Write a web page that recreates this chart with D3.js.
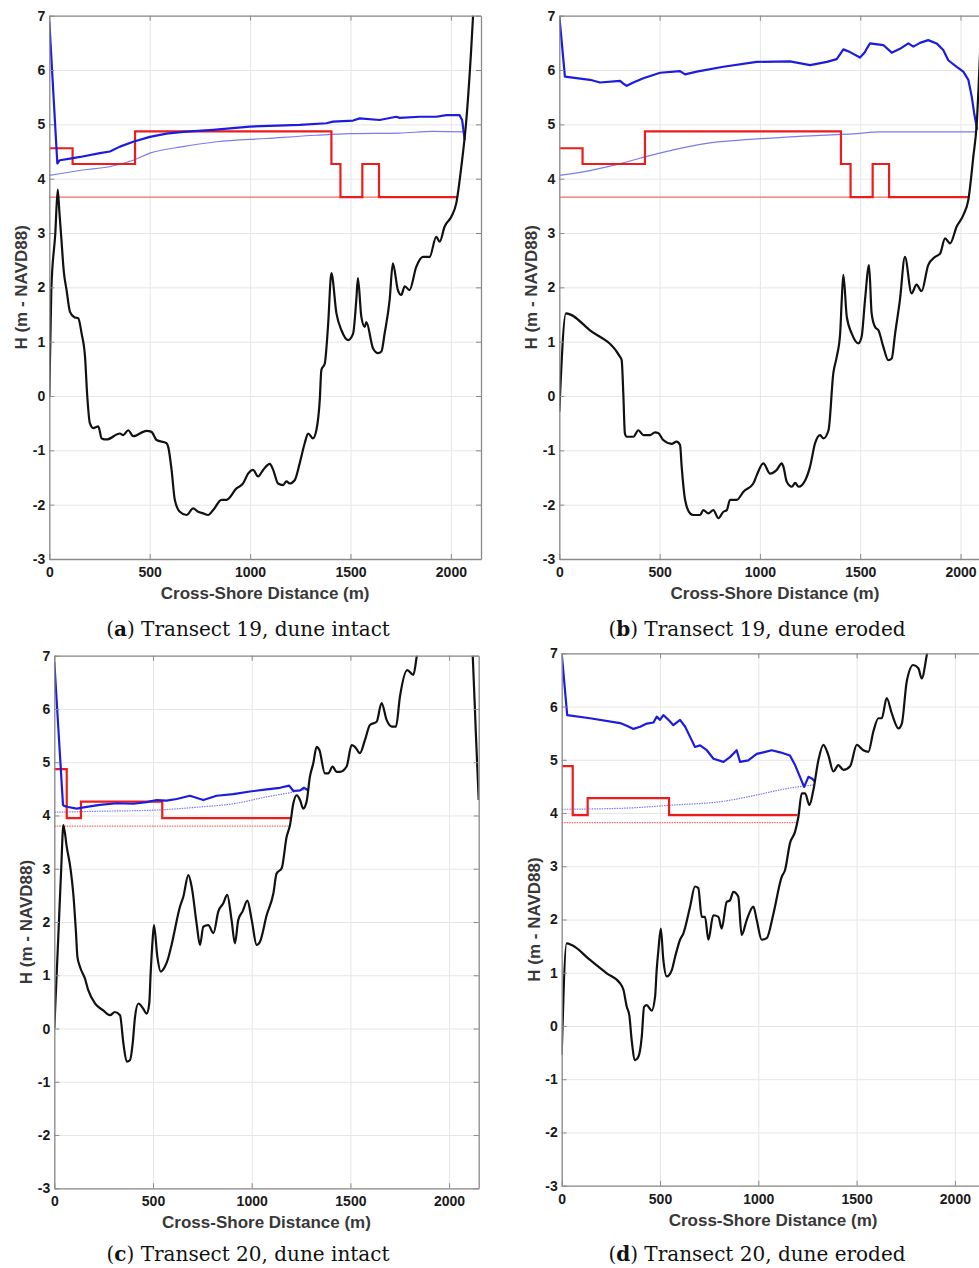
<!DOCTYPE html>
<html>
<head>
<meta charset="utf-8">
<script src="https://cdn.jsdelivr.net/npm/d3@7"></script>
<style>
  body { margin: 0; background: #fff; }
  svg { display: block; }
</style>
</head>
<body>
<div id="fig"></div>
<script>
var svgWidth = 979;
var svgHeight = 1268;

// Axis settings shared by all four panels
var xDomain = [0, 2150];
var yDomain = [-3, 7];
var xTicks = [0, 500, 1000, 1500, 2000];
var yTicks = [-3, -2, -1, 0, 1, 2, 3, 4, 5, 6, 7];
var xLabel = "Cross-Shore Distance (m)";
var yLabel = "H (m - NAVD88)";
var captionLetters = ["a", "b", "c", "d"];
var captionTexts = [" Transect 19, dune intact", " Transect 19, dune eroded",
                    " Transect 20, dune intact", " Transect 20, dune eroded"];

// (a) Transect 19, dune intact
var groundA = [[0,0],[10,1.95],[30,3.0],[42,3.8],[50,3.4],[60,2.9],[72,2.3],[86,1.95],[103,1.55],[125,1.45],[144,1.43],[161,1.15],[178,0.72],[189,0],[202,-0.5],[219,-0.59],[244,-0.56],[261,-0.78],[285,-0.8],[352,-0.69],[368,-0.72],[393,-0.63],[418,-0.74],[484,-0.64],[509,-0.66],[534,-0.81],[584,-0.87],[593,-0.95],[609,-1.36],[625,-1.91],[650,-2.13],[684,-2.19],[716,-2.07],[741,-2.13],[766,-2.16],[791,-2.19],[816,-2.1],[858,-1.91],[883,-1.91],[932,-1.7],[965,-1.61],[990,-1.43],[1015,-1.36],[1040,-1.48],[1065,-1.36],[1098,-1.25],[1115,-1.36],[1139,-1.61],[1164,-1.64],[1181,-1.57],[1197,-1.61],[1222,-1.55],[1247,-1.24],[1272,-0.87],[1289,-0.69],[1313,-0.78],[1330,-0.63],[1347,-0.07],[1355,0.48],[1372,0.6],[1388,1.28],[1405,2.26],[1430,1.52],[1455,1.21],[1488,1.03],[1513,1.15],[1529,1.77],[1537,2.17],[1554,1.46],[1571,1.27],[1579,1.36],[1612,0.88],[1637,0.79],[1654,0.82],[1670,1.15],[1695,1.77],[1711,2.44],[1736,1.95],[1753,1.86],[1770,2.02],[1794,1.95],[1828,2.38],[1861,2.56],[1894,2.56],[1927,2.93],[1944,2.84],[1969,3.12],[2002,3.3],[2027,3.55],[2052,4.22],[2077,5.08],[2101,6.37],[2115,7.3],[2125,7.9]];
var surgeA = [[0,6.9],[40,4.28],[52,4.34],[103,4.37],[153,4.4],[252,4.47],[302,4.5],[352,4.59],[418,4.68],[501,4.77],[584,4.83],[667,4.86],[816,4.9],[998,4.96],[1247,4.99],[1380,5.02],[1413,5.05],[1513,5.07],[1546,5.11],[1645,5.08],[1728,5.14],[1745,5.12],[1844,5.14],[1927,5.14],[1977,5.17],[2043,5.17],[2056,5.08],[2069,4.71]];
var meanA = [[0,4.06],[166,4.16],[299,4.22],[418,4.34],[501,4.47],[667,4.59],[833,4.68],[1082,4.74],[1330,4.8],[1496,4.83],[1745,4.84],[1911,4.87],[2069,4.86]];
var stepA = [[0,4.56],[116,4.27],[427,4.87],[1405,4.27],[1450,3.66],[1559,4.27],[1642,3.66],[2035,3.66]];
var levelA = [[0,3.66],[2035,3.66]];

// (b) Transect 19, dune eroded
var groundB = [[0,-0.29],[33,1.52],[153,1.21],[303,0.72],[311,0.66],[319,0.05],[327,-0.69],[336,-0.75],[369,-0.75],[394,-0.63],[419,-0.72],[452,-0.72],[477,-0.67],[493,-0.68],[518,-0.81],[560,-0.88],[585,-0.84],[602,-0.9],[610,-1.3],[627,-1.91],[652,-2.16],[668,-2.19],[702,-2.19],[718,-2.1],[743,-2.16],[768,-2.1],[793,-2.25],[818,-2.13],[835,-2.1],[851,-1.91],[885,-1.91],[918,-1.76],[967,-1.61],[984,-1.46],[1017,-1.24],[1051,-1.43],[1084,-1.36],[1109,-1.24],[1117,-1.3],[1134,-1.58],[1159,-1.67],[1176,-1.6],[1193,-1.67],[1226,-1.55],[1250,-1.3],[1275,-0.87],[1300,-0.72],[1317,-0.78],[1342,-0.63],[1366,0.42],[1383,0.72],[1400,1.15],[1408,1.77],[1416,2.23],[1433,1.46],[1458,1.15],[1491,0.97],[1507,1.09],[1524,1.77],[1544,2.41],[1557,1.52],[1574,1.27],[1591,1.21],[1615,0.91],[1640,0.66],[1657,0.69],[1674,1.15],[1698,1.77],[1723,2.56],[1756,1.89],[1781,2.05],[1806,1.93],[1839,2.41],[1873,2.56],[1898,2.62],[1923,2.9],[1948,2.81],[1981,3.12],[2014,3.33],[2039,3.61],[2064,4.41],[2081,5.02],[2091,5.76],[2105,7.0],[2115,7.8]];
var surgeB = [[0,7.0],[28,5.88],[153,5.82],[203,5.77],[303,5.8],[319,5.75],[336,5.71],[369,5.77],[419,5.85],[503,5.95],[602,5.98],[627,5.92],[685,5.97],[818,6.06],[984,6.15],[1150,6.16],[1250,6.09],[1334,6.15],[1383,6.2],[1416,6.38],[1449,6.33],[1499,6.23],[1524,6.33],[1532,6.39],[1549,6.49],[1615,6.46],[1657,6.32],[1698,6.39],[1740,6.49],[1765,6.43],[1798,6.5],[1839,6.55],[1881,6.49],[1914,6.37],[1939,6.18],[1981,6.06],[2014,5.97],[2039,5.82],[2056,5.51],[2068,5.21],[2083,4.9]];
var meanB = [[0,4.06],[153,4.15],[319,4.29],[436,4.41],[569,4.53],[735,4.65],[901,4.71],[1150,4.77],[1482,4.83],[1598,4.86],[1815,4.86],[2081,4.86]];
var stepB = [[0,4.56],[116,4.27],[427,4.87],[1404,4.27],[1452,3.66],[1562,4.27],[1644,3.66],[2039,3.66]];
var levelB = [[0,3.66],[2039,3.66]];

// (c) Transect 20, dune intact
var groundC = [[0,0],[20,1.7],[35,3.0],[46,3.82],[63,3.41],[83,2.98],[96,2.54],[110,1.79],[117,1.35],[130,1.16],[155,0.94],[172,0.72],[206,0.47],[248,0.34],[282,0.25],[307,0.31],[333,0.25],[350,-0.28],[367,-0.62],[384,-0.59],[397,-0.28],[409,0.22],[426,0.47],[451,0.37],[468,0.28],[481,0.47],[488,1.03],[498,1.66],[505,1.94],[522,1.35],[539,1.07],[560,1.16],[577,1.32],[594,1.57],[637,2.29],[654,2.48],[679,2.88],[696,2.66],[721,1.97],[738,1.57],[755,1.91],[780,1.94],[806,1.79],[831,2.2],[856,2.35],[876,2.51],[898,2.04],[915,1.6],[932,2.04],[954,2.2],[978,2.4],[1000,2.04],[1025,1.57],[1042,1.63],[1076,2.13],[1110,2.54],[1126,2.91],[1152,3.01],[1177,3.6],[1194,3.82],[1211,4.23],[1228,4.38],[1245,4.29],[1261,4.13],[1278,4.26],[1295,4.73],[1312,4.98],[1329,5.29],[1343,5.23],[1371,4.79],[1388,4.79],[1410,4.92],[1430,4.82],[1447,4.82],[1481,4.92],[1506,5.32],[1523,5.29],[1548,5.17],[1574,5.42],[1599,5.7],[1633,5.76],[1658,6.11],[1684,5.79],[1709,5.67],[1731,5.67],[1751,6.23],[1788,6.73],[1819,6.64],[1836,6.98],[1870,7.6],[2000,8.6],[2100,7.9],[2120,6.98],[2135,5.6],[2150,4.29]];
var surgeC = [[0,6.89],[44,4.2],[50,4.18],[70,4.16],[113,4.13],[164,4.16],[231,4.2],[316,4.23],[400,4.22],[468,4.25],[519,4.29],[569,4.28],[620,4.31],[687,4.37],[755,4.29],[822,4.37],[907,4.4],[991,4.45],[1076,4.49],[1143,4.52],[1190,4.56],[1211,4.46],[1245,4.47],[1265,4.52],[1287,4.47]];
var meanC = [[0,4.06],[231,4.08],[502,4.1],[738,4.16],[907,4.22],[1076,4.35],[1211,4.44],[1287,4.5]];
var stepC = [[0,4.87],[63,3.95],[135,4.26],[547,3.95],[1197,3.95]];
var levelC = [[0,3.8],[1197,3.8]];

// (d) Transect 20, dune eroded
var groundD = [[0,-0.54],[25,1.55],[51,1.52],[144,1.24],[229,0.99],[297,0.8],[314,0.68],[331,0.36],[344,0.2],[356,-0.27],[373,-0.64],[390,-0.58],[407,-0.21],[419,0.36],[432,0.39],[458,0.29],[475,0.55],[483,1.05],[492,1.43],[504,1.83],[517,1.24],[534,0.93],[560,1.05],[577,1.3],[602,1.62],[619,1.74],[653,2.24],[678,2.62],[695,2.59],[712,2.05],[729,2.05],[746,1.62],[771,2.08],[797,2.05],[814,1.83],[839,2.33],[856,2.36],[873,2.52],[898,2.43],[915,1.71],[941,1.99],[975,2.24],[992,1.99],[1017,1.62],[1043,1.65],[1077,2.11],[1119,2.8],[1136,2.93],[1161,3.43],[1187,3.65],[1204,3.93],[1221,4.37],[1238,4.37],[1260,4.15],[1280,4.43],[1306,5.0],[1331,5.28],[1356,5.09],[1382,4.78],[1407,4.9],[1433,4.81],[1467,4.88],[1501,5.28],[1534,5.18],[1560,5.15],[1585,5.53],[1611,5.78],[1628,5.78],[1653,6.16],[1679,5.87],[1713,5.59],[1730,5.68],[1755,6.47],[1788,6.78],[1814,6.72],[1831,6.53],[1857,6.97],[1880,7.5],[2000,8.6],[2110,8.0]];
var surgeD = [[0,7.0],[28,5.84],[144,5.78],[297,5.69],[331,5.64],[365,5.58],[399,5.62],[433,5.68],[467,5.7],[483,5.81],[500,5.75],[517,5.84],[543,5.75],[568,5.65],[602,5.75],[628,5.62],[653,5.43],[678,5.24],[704,5.27],[738,5.18],[772,5.02],[823,4.96],[856,5.05],[890,5.18],[907,4.96],[949,4.99],[992,5.11],[1026,5.14],[1068,5.18],[1111,5.14],[1161,5.08],[1187,4.9],[1212,4.68],[1233,4.49],[1255,4.68],[1272,4.65],[1289,4.59]];
var meanD = [[0,4.07],[314,4.09],[568,4.15],[823,4.22],[992,4.34],[1161,4.47],[1289,4.53]];
var stepD = [[0,4.88],[56,3.96],[132,4.28],[546,3.96],[1199,3.96]];
var levelD = [[0,3.82],[1199,3.82]];

// Panel boxes in page pixels
var panels = [
  { left: 49.3,  right: 481,   top: 15.7,  bottom: 559,    capX: 248, capY: 636, dotted: false,
    ground: groundA, surge: surgeA, mean: meanA, step: stepA, level: levelA },
  { left: 559.3, right: 990.6, top: 15.7,  bottom: 559,    capX: 757, capY: 636, dotted: false,
    ground: groundB, surge: surgeB, mean: meanB, step: stepB, level: levelB },
  { left: 54.3,  right: 478.7, top: 655.7, bottom: 1188.3, capX: 248, capY: 1261, dotted: true,
    ground: groundC, surge: surgeC, mean: meanC, step: stepC, level: levelC },
  { left: 561.7, right: 984.4, top: 653.3, bottom: 1185.7, capX: 757, capY: 1261, dotted: true,
    ground: groundD, surge: surgeD, mean: meanD, step: stepD, level: levelD }
];

var svg = d3.select("#fig")
    .append("svg")
    .attr("width", svgWidth)
    .attr("height", svgHeight)
    .style("font-family", "'Liberation Sans', Arial, sans-serif");

// plain numbers, hyphen minus (MATLAB style)
var tickFmt = d => String(d);

panels.forEach(function(p, i) {
    var width = p.right - p.left;
    var height = p.bottom - p.top;

    var x = d3.scaleLinear().domain(xDomain).range([0, width]);
    var y = d3.scaleLinear().domain(yDomain).range([height, 0]);

    var g = svg.append("g")
        .attr("transform", `translate(${p.left}, ${p.top})`);

    g.append("clipPath")
        .attr("id", "clip" + i)
        .append("rect")
        .attr("width", width)
        .attr("height", height);

    // grid
    g.append("g")
        .attr("class", "grid")
        .attr("transform", `translate(0, ${height})`)
        .call(d3.axisBottom(x).tickValues(xTicks).tickSize(-height).tickFormat(""));
    g.append("g")
        .attr("class", "grid")
        .call(d3.axisLeft(y).tickValues(yTicks).tickSize(-width).tickFormat(""));
    g.selectAll(".grid line").attr("stroke", "#e6e6e6").attr("stroke-width", 1);
    g.selectAll(".grid .domain").remove();

    var plot = g.append("g").attr("clip-path", `url(#clip${i})`);

    var line = d3.line().x(d => x(d[0])).y(d => y(d[1]));
    var smooth = d3.line().x(d => x(d[0])).y(d => y(d[1])).curve(d3.curveMonotoneX);
    var stepLine = d3.line().x(d => x(d[0])).y(d => y(d[1])).curve(d3.curveStepAfter);

    plot.append("path")
        .attr("d", line(p.level))
        .attr("fill", "none")
        .attr("stroke", "#f26a6a")
        .attr("stroke-width", 1.2)
        .attr("stroke-dasharray", p.dotted ? "1.5,1" : null);

    plot.append("path")
        .attr("d", smooth(p.mean))
        .attr("fill", "none")
        .attr("stroke", "#7b7bf0")
        .attr("stroke-width", 1.2)
        .attr("stroke-dasharray", p.dotted ? "1.5,1" : null);

    plot.append("path")
        .attr("d", stepLine(p.step))
        .attr("fill", "none")
        .attr("stroke", "#ec1c1c")
        .attr("stroke-width", 2.2);

    plot.append("path")
        .attr("d", line(p.surge))
        .attr("fill", "none")
        .attr("stroke", "#1c1ce0")
        .attr("stroke-width", 2.2)
        .attr("stroke-linejoin", "round");

    plot.append("path")
        .attr("d", smooth(p.ground))
        .attr("fill", "none")
        .attr("stroke", "#111")
        .attr("stroke-width", 2.2)
        .attr("stroke-linejoin", "round");

    // axes (box with inward ticks)
    var bottomAxis = d3.axisBottom(x).tickValues(xTicks).tickFormat(tickFmt)
        .tickSizeInner(-5).tickSizeOuter(0).tickPadding(8);
    var leftAxis = d3.axisLeft(y).tickValues(yTicks).tickFormat(tickFmt)
        .tickSizeInner(-5).tickSizeOuter(0).tickPadding(4);
    var topAxis = d3.axisTop(x).tickValues(xTicks).tickSizeInner(-5).tickSizeOuter(0).tickFormat("");
    var rightAxis = d3.axisRight(y).tickValues(yTicks).tickSizeInner(-5).tickSizeOuter(0).tickFormat("");

    g.append("g").attr("class", "ax").attr("transform", `translate(0, ${height})`).call(bottomAxis);
    g.append("g").attr("class", "ax").call(leftAxis);
    g.append("g").attr("class", "ax").call(topAxis);
    g.append("g").attr("class", "ax").attr("transform", `translate(${width}, 0)`).call(rightAxis);

    g.selectAll(".ax .domain").attr("stroke", "#8a8a8a").attr("stroke-width", 1.3);
    g.selectAll(".ax line").attr("stroke", "#8a8a8a");
    g.selectAll(".ax text")
        .attr("fill", "#1a1a1a")
        .style("font-size", "14px")
        .style("font-weight", "bold")
        .style("font-family", "'Liberation Sans', Arial, sans-serif");

    // axis titles
    g.append("text")
        .attr("x", width / 2)
        .attr("y", height + 40)
        .attr("text-anchor", "middle")
        .style("font-size", "17px")
        .style("font-weight", "bold")
        .attr("fill", "#383838")
        .text(xLabel);

    g.append("text")
        .attr("transform", `translate(-22, ${height / 2}) rotate(-90)`)
        .attr("text-anchor", "middle")
        .style("font-size", "17px")
        .style("font-weight", "bold")
        .attr("fill", "#383838")
        .text(yLabel);

    // caption under each panel
    var cap = svg.append("text")
        .attr("x", p.capX)
        .attr("y", p.capY)
        .attr("text-anchor", "middle")
        .style("font-family", "'DejaVu Serif', 'Liberation Serif', serif")
        .style("font-size", "20px")
        .attr("fill", "#111");
    cap.append("tspan").text("(");
    cap.append("tspan").style("font-weight", "bold").text(captionLetters[i]);
    cap.append("tspan").text(")" + captionTexts[i]);
});
</script>
</body>
</html>
